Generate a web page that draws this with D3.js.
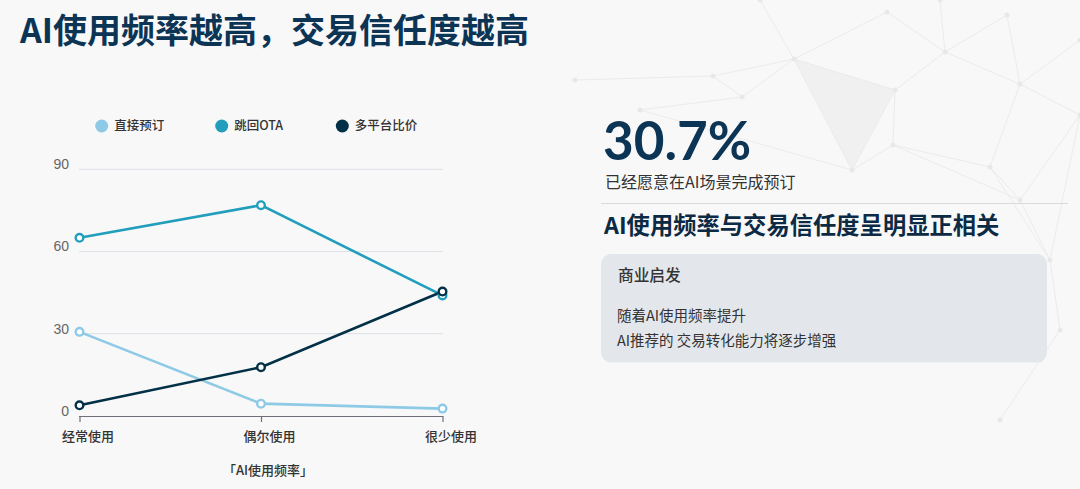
<!DOCTYPE html>
<html><head><meta charset="utf-8">
<script src="https://cdn.jsdelivr.net/npm/d3@7"></script>
<style>
html,body{margin:0;padding:0;background:#f8f8f8;}
svg{display:block;font-family:"Noto Sans CJK SC","Noto Sans",sans-serif;}
</style></head>
<body>
<svg id="c" width="1080" height="489"></svg>
<script>
const categories = ["经常使用", "偶尔使用", "很少使用"];
const seriesNames = ["直接预订", "跳回OTA", "多平台比价"];
const directBooking = [30.7, 4.5, 2.7];
const backToOTA = [65.0, 76.9, 44.0];
const multiCompare = [3.9, 17.8, 45.4];
const yTicks = [0, 30, 60, 90];
const colors = ["#8ecae6", "#219ebc", "#023047"];
const titleText = "AI使用频率越高，交易信任度越高";
const xAxisTitle = "「AI使用频率」";
const bigStat = "30.7%";
const statLabel = "已经愿意在AI场景完成预订";
const headline = "AI使用频率与交易信任度呈明显正相关";
const boxTitle = "商业启发";
const boxLines = ["随着AI使用频率提升", "AI推荐的 交易转化能力将逐步增强"];

const series = [directBooking, backToOTA, multiCompare];
const svg = d3.select("#c");

// background decoration (faint network)
const nodes = {a:[794,59],b:[895,90],c:[852,170],d:[713,76],e:[742,97],f:[945,52],g:[1020,84],h:[990,167],i:[893,145],j:[1020,200],k:[1080,115],l:[1007,15],m:[887,12],n:[760,0],o:[640,110],p:[575,80],q:[1050,260],r:[1080,40],s:[940,0],t:[1060,330],u:[1000,420],v:[1040,360]};
svg.append("path").attr("d", d3.line()([nodes.a, nodes.b, nodes.c])+"Z").attr("fill", "#f0f0f0");
const deco = svg.append("g").attr("stroke", "#ebebec").attr("fill", "none").attr("stroke-width", 1);
const edges = [["a","b"],["b","c"],["c","a"],["d","a"],["e","a"],["a","m"],["a","n"],["b","f"],["f","g"],["g","h"],["h","i"],["i","b"],["g","k"],["f","l"],["l","g"],["m","f"],["h","j"],["j","k"],["c","i"],["e","o"],["d","p"],["o","c"],["g","r"],["s","f"],["j","q"],["q","t"],["h","q"],["i","j"],["t","v"],["v","u"],["q","k"],["e","d"]];
edges.forEach(([s,t]) => deco.append("line").attr("x1", nodes[s][0]).attr("y1", nodes[s][1]).attr("x2", nodes[t][0]).attr("y2", nodes[t][1]));
Object.values(nodes).forEach(p => svg.append("circle").attr("cx", p[0]).attr("cy", p[1]).attr("r", 2.5).attr("fill", "#e8e8ea"));

// Title
svg.append("text").attr("x", 20).attr("y", 43).attr("font-size", 34).attr("font-weight", 700).attr("fill", "#0c3455").text(titleText);

// chart
const x = d3.scalePoint().domain(categories).range([79.5, 442.5]);
const y = d3.scaleLinear().domain([0, 90]).range([416, 169.3]);

const grid = svg.append("g");
yTicks.filter(t => t > 0).forEach(t => {
  grid.append("line").attr("x1", 79).attr("x2", 443).attr("y1", y(t)).attr("y2", y(t)).attr("stroke", "#dcdfe6").attr("stroke-width", 1);
});
yTicks.forEach(t => {
  grid.append("text").attr("x", 69).attr("y", y(t) - 5).attr("dy", "0.35em").attr("text-anchor", "end")
    .attr("font-size", 14).attr("fill", "#666").attr("font-family", "Liberation Sans, Arial, sans-serif").text(t);
});

const xAxis = svg.append("g").attr("transform", `translate(0,${y(0)})`)
  .call(d3.axisBottom(x).tickSize(6).tickSizeOuter(0).tickPadding(10));
xAxis.select(".domain").attr("stroke", "#6e7079").attr("stroke-width", 1.2).attr("d", `M79,0.5H443`);
xAxis.selectAll(".tick line").attr("stroke", "#6e7079").attr("stroke-width", 1.2);
xAxis.selectAll(".tick text").attr("font-size", 13).attr("font-weight", 500).attr("fill", "#333")
  .attr("font-family", '"Noto Sans CJK SC", sans-serif').attr("dx", 8);

svg.append("text").attr("x", 268).attr("y", 470).attr("dy", "0.35em").attr("text-anchor", "middle")
  .attr("font-size", 13).attr("fill", "#333").attr("font-weight", 500).text(xAxisTitle);

const line = d3.line().x((d, i) => x(categories[i])).y(d => y(d));
series.forEach((s, k) => {
  svg.append("path").datum(s).attr("d", line).attr("fill", "none").attr("stroke", colors[k]).attr("stroke-width", 2.6);
});
series.forEach((s, k) => {
  svg.append("g").selectAll("circle").data(s).join("circle")
    .attr("cx", (d, i) => x(categories[i])).attr("cy", d => y(d)).attr("r", 3.8)
    .attr("fill", "#fff").attr("stroke", colors[k]).attr("stroke-width", 2.4);
});

// legend
const legendX = [101.7, 221.7, 342.3];
seriesNames.forEach((n, k) => {
  svg.append("circle").attr("cx", legendX[k]).attr("cy", 126).attr("r", 6.5).attr("fill", colors[k]);
  svg.append("text").attr("x", legendX[k] + 12.5).attr("y", 126).attr("dy", "0.35em")
    .attr("font-size", 12.5).attr("font-weight", 500).attr("fill", "#333").text(n);
});

// right panel
svg.append("text").attr("x", 603).attr("y", 160).attr("font-size", 53).attr("font-weight", 700)
  .attr("fill", "#0c3455").attr("font-family", 'Lato, "Noto Sans", sans-serif').text(bigStat);
svg.append("text").attr("x", 605).attr("y", 182.5).attr("dy", "0.35em").attr("font-size", 16).attr("fill", "#333").text(statLabel);
svg.append("line").attr("x1", 601).attr("x2", 1068).attr("y1", 203.5).attr("y2", 203.5).attr("stroke", "#d9dadc").attr("stroke-width", 1);
svg.append("text").attr("x", 604).attr("y", 226).attr("dy", "0.35em").attr("font-size", 23.3).attr("font-weight", 700).attr("fill", "#0c2a44").text(headline);
svg.append("rect").attr("x", 601).attr("y", 254).attr("width", 446).attr("height", 108.5).attr("rx", 10).attr("fill", "#e3e7eb");
svg.append("text").attr("x", 618).attr("y", 275.5).attr("dy", "0.35em").attr("font-size", 15.7).attr("font-weight", 500).attr("fill", "#333").text(boxTitle);
boxLines.forEach((t, i) => {
  svg.append("text").attr("x", 617).attr("y", 316 + i * 24.7).attr("dy", "0.35em").attr("font-size", 14.5).attr("fill", "#333").text(t);
});
</script>
</body></html>
